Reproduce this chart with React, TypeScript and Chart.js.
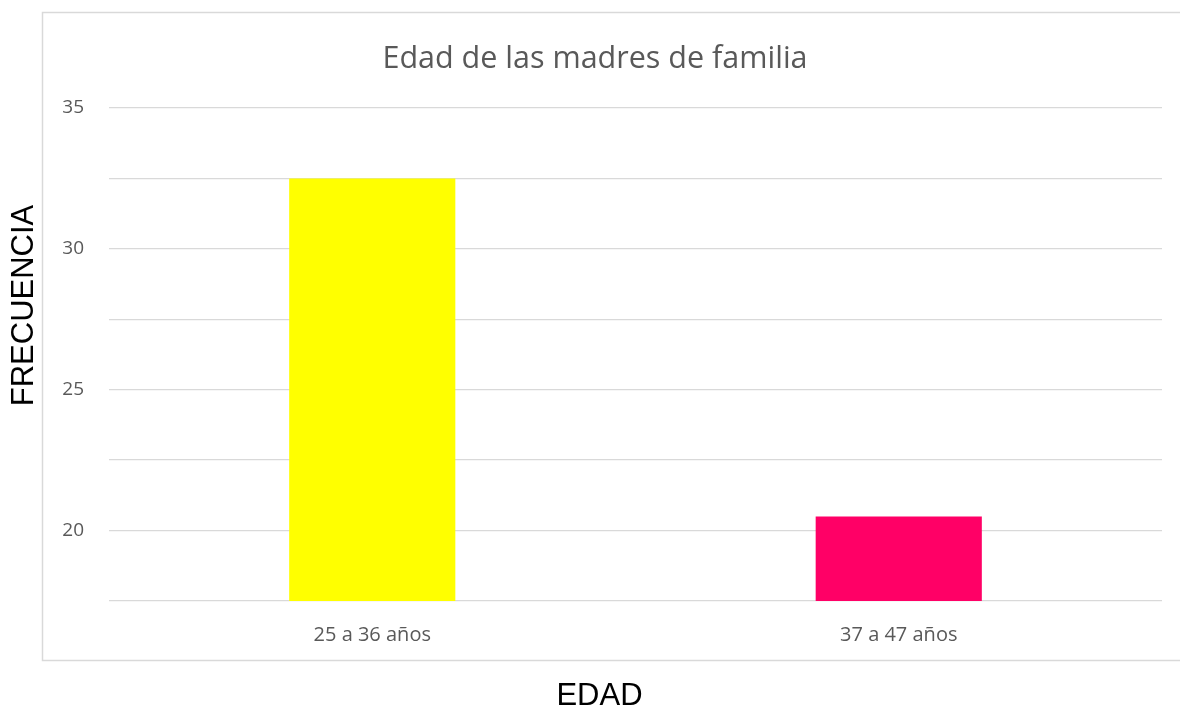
import React, { useEffect, useRef } from "react";
import { Chart, registerables } from "chart.js";

Chart.register(...registerables);

const categories = ["25 a 36 años", "37 a 47 años"];
const values = [32.5, 20.5];
const barColors = ["#FFFF00", "#FF0066"];
const yMin = 17.5;
const yMax = 35;
const yStep = 2.5;
const labeledTicks = [20, 25, 30, 35];

const chartTitle = "Edad de las madres de familia";
const yTitle = "FRECUENCIA";
const xTitle = "EDAD";

const frame = {
  id: "frame",
  beforeDraw(chart: any) {
    const ctx = chart.ctx;
    ctx.save();
    ctx.fillStyle = "#ffffff";
    ctx.fillRect(0, 0, chart.width, chart.height);
    ctx.strokeStyle = "#d9d9d9";
    ctx.lineWidth = 1.5;
    ctx.strokeRect(42.5, 12.5, chart.width + 10, 648);
    ctx.restore();
  },
  afterDraw(chart: any) {
    const ctx = chart.ctx;
    ctx.save();
    ctx.fillStyle = "#000000";
    ctx.font = "31px 'Liberation Sans'";
    ctx.textAlign = "center";
    ctx.textBaseline = "middle";
    ctx.fillText(xTitle, 599.5, 696);
    ctx.translate(24, 305.5);
    ctx.rotate(-Math.PI / 2);
    ctx.fillText(yTitle, 0, 0);
    ctx.restore();
  },
};

export default function App() {
  const ref = useRef<HTMLCanvasElement>(null);
  useEffect(() => {
    document.body.style.margin = "0";
    const chart = new Chart(ref.current!, {
      type: "bar",
      data: {
        labels: categories,
        datasets: [
          {
            data: values,
            backgroundColor: barColors,
            borderWidth: 0,
            categoryPercentage: 1,
            barPercentage: 0.3156,
          },
        ],
      },
      options: {
        responsive: false,
        animation: false,
        layout: { padding: { left: 28, right: 18, top: 0, bottom: 0 } },
        plugins: {
          legend: { display: false },
          tooltip: { enabled: false },
          title: {
            display: true,
            text: chartTitle,
            color: "#595959",
            font: { family: "Open Sans", size: 30.5, weight: "normal", lineHeight: 1.2 },
            padding: { top: 41, bottom: 30.4 },
          },
        },
        scales: {
          x: {
            afterFit(scale: any) {
              scale.height = 109;
            },
            grid: { display: false },
            border: { display: false },
            ticks: {
              color: "#595959",
              font: { family: "Open Sans", size: 20 },
              padding: 14,
            },
          },
          y: {
            min: yMin,
            max: yMax,
            afterFit(scale: any) {
              scale.width = 81;
            },
            grid: { color: "#d9d9d9", lineWidth: 1.3, drawTicks: false },
            border: { display: false },
            ticks: {
              stepSize: yStep,
              color: "#595959",
              font: { family: "Open Sans", size: 19 },
              padding: 25,
              callback: (v: any) => (labeledTicks.includes(Number(v)) ? String(v) : ""),
            },
          },
        },
      },
      plugins: [frame],
    });
    return () => chart.destroy();
  }, []);
  return (
    <div style={{ position: "fixed", left: 0, top: 0, width: 1180, height: 710 }}>
      <canvas ref={ref} width={1180} height={710} />
    </div>
  );
}
